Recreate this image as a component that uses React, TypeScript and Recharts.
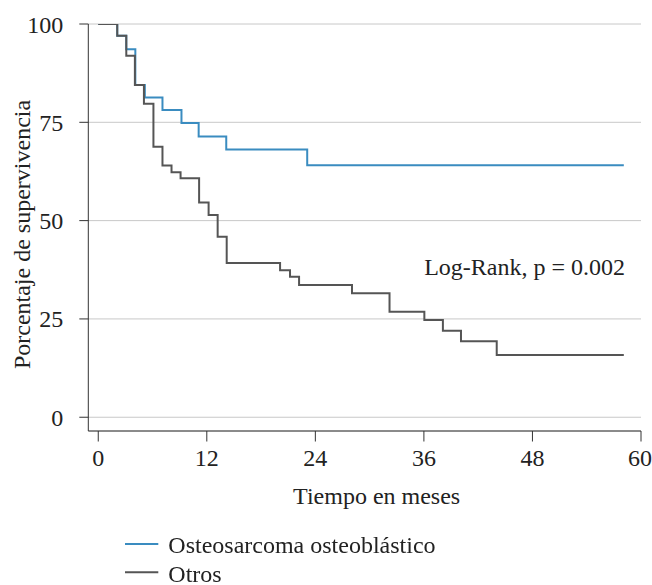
import React from 'react';
import { LineChart, Line, XAxis, YAxis, CartesianGrid, Legend, Label, Customized } from 'recharts';

const blueTimes = [0, 2.1, 3.1, 4.1, 5.15, 7.1, 9.2, 11.1, 14.15, 23.1, 58.1];
const blueSurv = [100, 97, 93.6, 84.5, 81.3, 78.1, 74.8, 71.4, 68.1, 64.1, 64.1];

const otherTimes = [0, 2.1, 3.1, 4.05, 5.05, 6.1, 7.1, 8.1, 9.1, 11.15, 12.2, 13.2, 14.2, 20.1, 21.2, 22.2, 28.05, 32.2, 36.05, 38.1, 40.1, 44.05, 58.1];
const otherSurv = [100, 97.0, 91.9, 84.5, 79.7, 68.8, 64.0, 62.3, 60.8, 54.6, 51.4, 45.9, 39.2, 37.4, 35.7, 33.6, 31.5, 26.8, 24.7, 22.0, 19.3, 15.8, 15.8];

const xTicks = [0, 12, 24, 36, 48, 60];
const yTicks = [0, 25, 50, 75, 100];

const seriesNames = ['Osteosarcoma osteoblástico', 'Otros'];
const annotation = 'Log-Rank, p = 0.002';
const xTitle = 'Tiempo en meses';
const yTitle = 'Porcentaje de supervivencia';

const FONT = 'Liberation Serif, Tinos, Times New Roman, DejaVu Serif, serif';
const FS = 24;
const TEXT = '#222';
const BLUE = '#3a8cc0';
const DARK = '#555555';

const blueData = blueTimes.map((t, i) => ({ t, v: blueSurv[i] }));
const otherData = otherTimes.map((t, i) => ({ t, v: otherSurv[i] }));

const renderLegend = (props: any) => {
  const payload = props.payload || [];
  return (
    <svg width={340} height={60} style={{ display: 'block', overflow: 'visible' }}>
      {payload.map((p: any, i: number) => (
        <g key={i}>
          <line x1={5} x2={38.3} y1={20 + i * 28.3} y2={20 + i * 28.3} stroke={p.color} strokeWidth={2} />
          <text x={48.3} y={28.5 + i * 29} style={{ fontFamily: FONT }} fontSize={FS} fill={TEXT}>{p.value}</text>
        </g>
      ))}
    </svg>
  );
};

const YTitle = (props: any) => {
  const vb = props.viewBox || {};
  const cy = vb.y + vb.height / 2 + 7;
  const cx = 22;
  return (
    <text x={cx} y={cy} transform={`rotate(-90, ${cx}, ${cy})`} textAnchor="middle" dominantBaseline="central" style={{ fontFamily: FONT }} fontSize={FS} fill={TEXT}>
      {yTitle}
    </text>
  );
};

const XTitle = (props: any) => {
  const vb = props.viewBox || {};
  const cx = vb.x + vb.width / 2 + 12;
  return (
    <text x={cx} y={504} textAnchor="middle" style={{ fontFamily: FONT }} fontSize={FS} fill={TEXT}>
      {xTitle}
    </text>
  );
};

const Annotation = () => (
  <text x={625} y={275} textAnchor="end" style={{ fontFamily: FONT }} fontSize={FS} fill={TEXT}>{annotation}</text>
);

export default function App() {
  return (
    <div style={{ position: 'fixed', left: 0, top: 0, width: 652, height: 585, background: '#fff', fontFamily: FONT }}>
      <LineChart width={652} height={585} margin={{ top: 24, right: 11, bottom: 0, left: 28.3 }} style={{ fontFamily: FONT }}>
        <CartesianGrid vertical={false} stroke="#c8c8c8" strokeWidth={1} />
        <XAxis
          dataKey="t"
          type="number"
          domain={[-1.1, 60]}
          ticks={xTicks}
          allowDataOverflow
          height={154}
          tickSize={10.5}
          tickMargin={7.2}
          stroke="#333"
          tick={{ fontFamily: FONT, fontSize: FS, fill: TEXT }}
        >
          <Label content={<XTitle />} />
        </XAxis>
        <YAxis
          type="number"
          domain={[-3.5, 100]}
          ticks={yTicks}
          allowDataOverflow
          width={60}
          tickSize={9}
          tickMargin={16}
          stroke="#333"
          tick={{ fontFamily: FONT, fontSize: FS, fill: TEXT }}
        >
          <Label content={<YTitle />} />
        </YAxis>
        <Line data={blueData} dataKey="v" name={seriesNames[0]} type="stepAfter" stroke={BLUE} strokeWidth={2} dot={false} isAnimationActive={false} />
        <Line data={otherData} dataKey="v" name={seriesNames[1]} type="stepAfter" stroke={DARK} strokeWidth={2} dot={false} isAnimationActive={false} />
        <Legend
          layout="horizontal"
          verticalAlign="middle"
          align="center"
          content={renderLegend}
          wrapperStyle={{ left: 120, top: 524, width: 340 }}
        />
        <Customized component={Annotation} />
      </LineChart>
    </div>
  );
}
